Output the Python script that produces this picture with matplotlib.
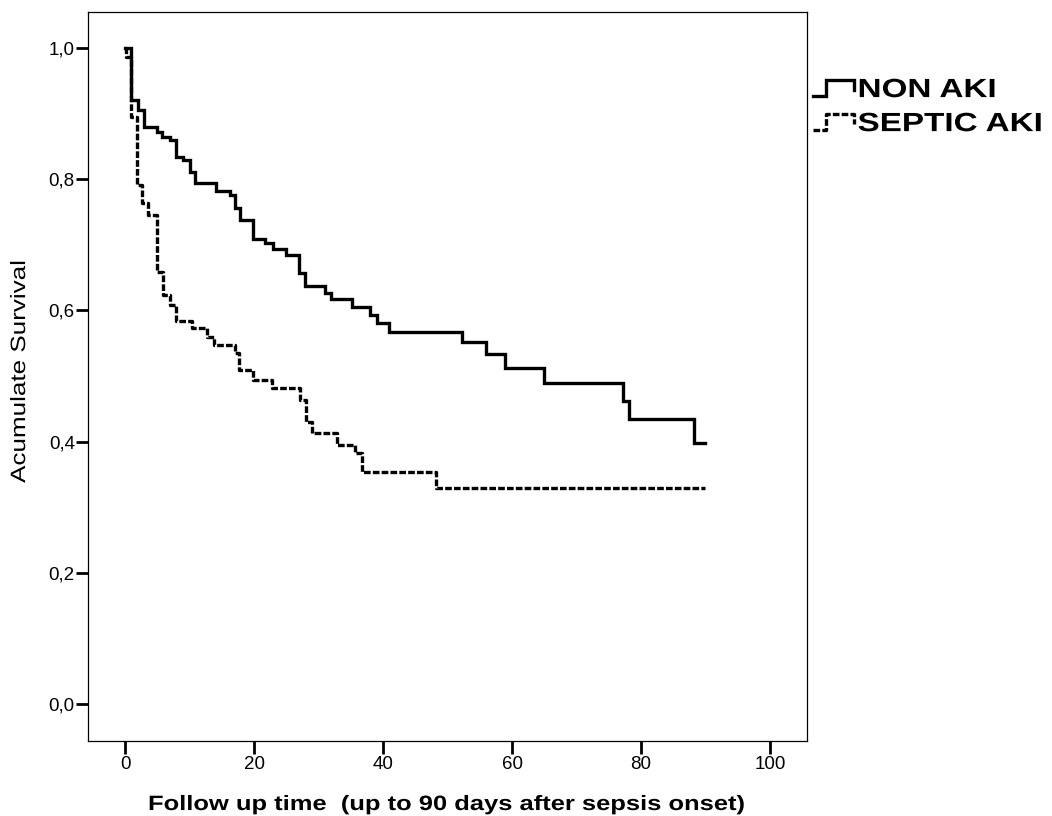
import numpy as np
import matplotlib
matplotlib.use('Agg')
import matplotlib.pyplot as plt
from matplotlib.lines import Line2D
from matplotlib.legend_handler import HandlerBase
from matplotlib.patheffects import AbstractPathEffect
from matplotlib.transforms import Affine2D

plt.rcParams['font.family'] = ['Liberation Sans', 'DejaVu Sans']

# Kaplan-Meier steps (time in days, cumulative survival)
non_aki_t = [0, 0.9, 2, 3, 5, 5.7, 7, 7.9, 9, 10, 10.9, 14.1, 16.3, 17, 17.8,
             19.8, 21.7, 23, 25, 27, 27.9, 31, 32, 35.2, 38, 39, 41, 52.2,
             56, 58.9, 65, 77.2, 78.1, 88.2, 90]
non_aki_s = [1.0, 0.92, 0.905, 0.88, 0.872, 0.864, 0.86, 0.834, 0.829, 0.811,
             0.794, 0.782, 0.776, 0.756, 0.738, 0.709, 0.703, 0.694, 0.684,
             0.657, 0.637, 0.627, 0.617, 0.605, 0.593, 0.581, 0.567, 0.552,
             0.534, 0.512, 0.489, 0.462, 0.434, 0.398, 0.398]

septic_t = [0, 0.2, 0.9, 1.9, 2.6, 3.6, 4.9, 5.9, 7, 7.9, 10.4, 12.7, 13.8,
            17, 17.7, 19.8, 22.8, 27.1, 28, 29, 32.9, 35.7, 36.7, 48.2, 90]
septic_s = [1.0, 0.986, 0.895, 0.791, 0.764, 0.745, 0.659, 0.623, 0.608,
            0.584, 0.573, 0.56, 0.547, 0.535, 0.509, 0.494, 0.482, 0.463,
            0.43, 0.413, 0.395, 0.383, 0.354, 0.329, 0.329]

x_ticks = [0, 20, 40, 60, 80, 100]
y_ticks = [0.0, 0.2, 0.4, 0.6, 0.8, 1.0]
y_tick_labels = ['0,0', '0,2', '0,4', '0,6', '0,8', '1,0']
group_labels = ['NON AKI', 'SEPTIC AKI']

LW = 2.4
DASH = (2.0, 0.65)


class Stretch(AbstractPathEffect):
    # SPSS export has wide labels: stretch glyphs along the baseline
    def __init__(self, sx):
        super().__init__()
        self.sx = sx

    def draw_path(self, renderer, gc, tpath, affine, rgbFace=None):
        renderer.draw_path(gc, tpath, Affine2D().scale(self.sx, 1) + affine,
                           rgbFace)


class StepHandler(HandlerBase):
    # the little step glyph of the SPSS legend
    def create_artists(self, legend, orig_handle, xdescent, ydescent,
                       width, height, fontsize, trans):
        xs = np.array([0, 0.32, 0.32, 0.98, 0.98]) * width - xdescent
        ys = np.array([0.05, 0.05, 0.95, 0.95, 0.4]) * height - ydescent
        ln = Line2D(xs, ys, color='black', lw=LW, transform=trans,
                    solid_joinstyle='miter')
        if orig_handle.get_linestyle() != '-':
            ln.set_dashes(DASH)
        return [ln]


fig = plt.figure(figsize=(10.52, 8.16), dpi=100)
ax = fig.add_axes([0.0837, 0.0919, 0.6834, 0.8934])

l1, = ax.step(non_aki_t, non_aki_s, where='post', color='black', lw=LW,
              solid_joinstyle='miter')
l2, = ax.step(septic_t, septic_s, where='post', color='black', lw=LW,
              dashes=DASH)

ax.set_xlim(-5.74, 105.74)
ax.set_ylim(-0.0564, 1.0549)
ax.set_xticks(x_ticks)
ax.set_yticks(y_ticks)
ax.set_yticklabels(y_tick_labels)
ax.tick_params(axis='both', direction='out', length=9, width=2,
               labelsize=13.5, colors='black')
ax.tick_params(axis='y', pad=0.5)
ax.tick_params(axis='x', pad=2)
for sp in ax.spines.values():
    sp.set_linewidth(0.9)

xl = ax.set_xlabel('Follow up time  (up to 90 days after sepsis onset)',
                   fontsize=15, fontweight='bold', ha='left', va='baseline')
ax.xaxis.set_label_coords(0.0834, -0.0947)
xl.set_path_effects([Stretch(1.225)])

yl = ax.set_ylabel('Acumulate Survival', fontsize=15, ha='left',
                   va='baseline')
ax.yaxis.set_label_coords(-0.0876, 0.354)
yl.set_path_effects([Stretch(1.25)])

leg = fig.legend([l1, l2], group_labels, handler_map={Line2D: StepHandler()},
                 loc='upper left', bbox_to_anchor=(0.7725, 0.9043),
                 frameon=False, prop={'size': 19, 'weight': 'bold'},
                 handlelength=1.6, handleheight=0.7, handletextpad=0.1,
                 labelspacing=0.38, borderaxespad=0, borderpad=0)
for t in leg.get_texts():
    t.set_path_effects([Stretch(1.26)])

fig.savefig('out.png', dpi=100)
